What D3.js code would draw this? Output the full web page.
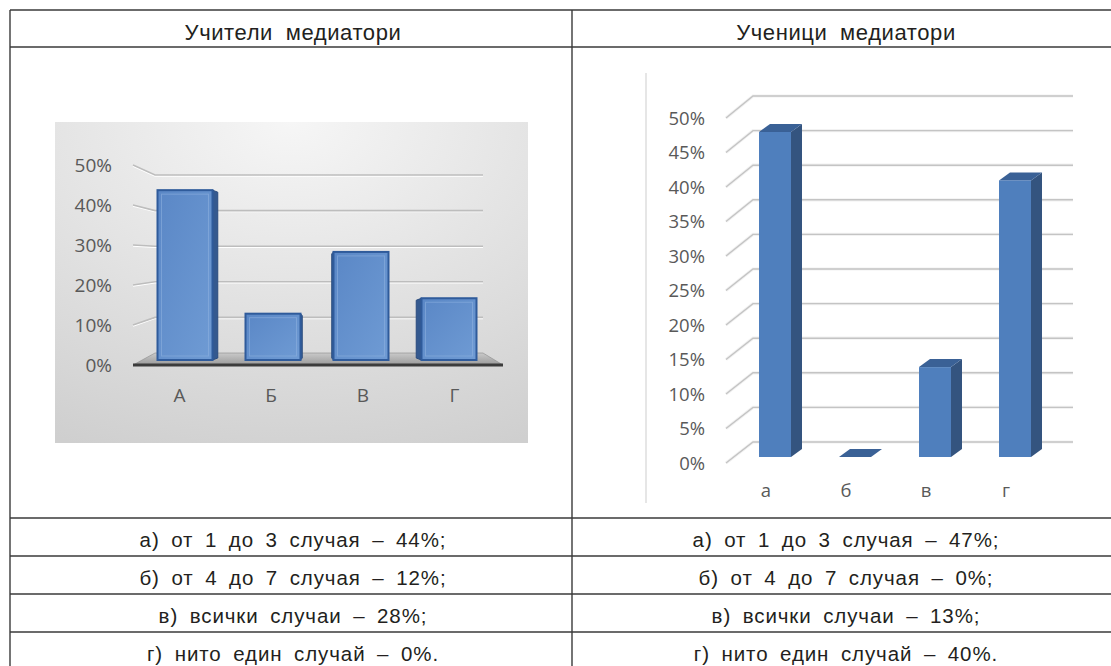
<!DOCTYPE html>
<html>
<head>
<meta charset="utf-8">
<script src="https://cdn.jsdelivr.net/npm/d3@7"></script>
<style>
  html, body { margin: 0; padding: 0; background: #fff; }
  svg { display: block; }
  .tbl-text { font-family: "Liberation Sans", Arial, sans-serif; fill: #231f20; }
  .ax-text { font-family: "Open Sans", "Noto Sans", sans-serif; fill: #595959; }
</style>
</head>
<body>
<svg id="chart" width="1111" height="666"></svg>
<script>
// ---- data ----
const headers = ["Учители медиатори", "Ученици медиатори"];

const teacherCats = ["А", "Б", "В", "Г"];
const teacherVals = [44, 12, 28, 16];
const teacherTicks = [0, 10, 20, 30, 40, 50];

const studentCats = ["а", "б", "в", "г"];
const studentVals = [47, 0, 13, 40];
const studentTicks = [0, 5, 10, 15, 20, 25, 30, 35, 40, 45, 50];

const teacherRows = [
  "а) от 1 до 3 случая – 44%;",
  "б) от 4 до 7 случая – 12%;",
  "в) всички случаи – 28%;",
  "г) нито един случай – 0%."
];
const studentRows = [
  "а) от 1 до 3 случая – 47%;",
  "б) от 4 до 7 случая – 0%;",
  "в) всички случаи – 13%;",
  "г) нито един случай – 40%."
];

const svg = d3.select("#chart");
const defs = svg.append("defs");
const pct = d => d + "%";

// ---- table frame ----
const tbl = { left: 10, mid: 572, right: 1120, top: 10, head: 47, body: 518, rowH: 38 };
const rowYs = d3.range(teacherRows.length + 1).map(i => tbl.body + i * tbl.rowH);
const tg = svg.append("g");
const hLines = [tbl.top, tbl.head, ...rowYs];
tg.selectAll("line.h").data(hLines).join("line")
  .attr("x1", tbl.left).attr("x2", tbl.right)
  .attr("y1", d => d).attr("y2", d => d)
  .attr("stroke", "#3a3a3a").attr("stroke-width", 1.4);
[tbl.left, tbl.mid].forEach(x => {
  tg.append("line").attr("x1", x).attr("x2", x)
    .attr("y1", tbl.top).attr("y2", 680)
    .attr("stroke", "#3a3a3a").attr("stroke-width", 1.4);
});
const colCenters = [(tbl.left + tbl.mid) / 2 + 2, (tbl.mid + tbl.right) / 2];
tg.selectAll("text.head").data(headers).join("text")
  .attr("class", "tbl-text")
  .attr("x", (d, i) => colCenters[i]).attr("y", 39.5)
  .attr("text-anchor", "middle").attr("font-size", 22)
  .attr("letter-spacing", 0.6).attr("word-spacing", 6)
  .text(d => d);
[teacherRows, studentRows].forEach((rows, c) => {
  tg.selectAll("text.r" + c).data(rows).join("text")
    .attr("class", "tbl-text")
    .attr("x", colCenters[c])
    .attr("y", (d, i) => rowYs[i] + 28.5)
    .attr("text-anchor", "middle").attr("font-size", 20.5)
    .attr("letter-spacing", 0.9).attr("word-spacing", 5)
    .text(d => d);
});

// ---- left chart: teachers ----
(function () {
  const g = svg.append("g");
  const bg = defs.append("radialGradient").attr("id", "bgGrad")
    .attr("cx", "50%").attr("cy", "0%").attr("r", "110%");
  bg.append("stop").attr("offset", "0%").attr("stop-color", "#f6f6f6");
  bg.append("stop").attr("offset", "100%").attr("stop-color", "#cfcfcf");
  g.append("rect").attr("x", 55).attr("y", 122).attr("width", 473).attr("height", 321)
    .attr("fill", "url(#bgGrad)");

  const yFront = d3.scaleLinear().domain([0, 50]).range([365, 165]);
  const yBack = d3.scaleLinear().domain([0, 50]).range([353, 175]);
  const yBar = d3.scaleLinear().domain([0, 50]).range([360, 167]);
  const x = d3.scaleBand().domain(teacherCats).range([141, 493])
    .paddingInner(0.375).paddingOuter(0.1875);
  const frontL = 133, backL = 155, backR = 483, frontR = 503;
  const vp = 317;

  // gridlines: back wall line plus slanted stub on the side wall
  const gl = g.append("g");
  teacherTicks.filter(t => t > 0).forEach(t => {
    [["#ffffff", 1.5, 1], ["#bdbdbd", 1.6, 0]].forEach(([c, w, o]) => {
      gl.append("polyline")
        .attr("points", `${frontL},${yFront(t) + o} ${backL},${yBack(t) + o} ${backR},${yBack(t) + o}`)
        .attr("fill", "none").attr("stroke", c).attr("stroke-width", w);
    });
  });

  // floor
  const fg = defs.append("linearGradient").attr("id", "floorGrad")
    .attr("x1", 0).attr("y1", 0).attr("x2", 0).attr("y2", 1);
  fg.append("stop").attr("offset", "0%").attr("stop-color", "#c9c9c9");
  fg.append("stop").attr("offset", "100%").attr("stop-color", "#9a9a9a");
  g.append("polygon")
    .attr("points", `${frontL},${yFront(0)} ${backL},${yBack(0)} ${backR},${yBack(0)} ${frontR},${yFront(0)}`)
    .attr("fill", "url(#floorGrad)").attr("stroke", "#8c8c8c").attr("stroke-width", 0.6);
  g.append("line").attr("x1", frontL).attr("x2", frontR)
    .attr("y1", yFront(0)).attr("y2", yFront(0))
    .attr("stroke", "#3c3c3c").attr("stroke-width", 3.2);

  // bars
  const barGrad = defs.append("linearGradient").attr("id", "barGrad")
    .attr("x1", 0).attr("y1", 0).attr("x2", 1).attr("y2", 1);
  barGrad.append("stop").attr("offset", "0%").attr("stop-color", "#5a87c6");
  barGrad.append("stop").attr("offset", "100%").attr("stop-color", "#6f9bd4");
  const bars = g.append("g");
  teacherCats.forEach((c, i) => {
    const v = teacherVals[i];
    const x0 = x(c), w = x.bandwidth();
    const cx = x0 + w / 2;
    const side = (vp - cx) * 0.04;
    const top = yBar(v), bot = yBar(0);
    // visible side face
    if (Math.abs(side) > 1) {
      const sx = side > 0 ? x0 + w : x0;
      bars.append("polygon")
        .attr("points", `${sx},${top} ${sx + side},${top + 2} ${sx + side},${bot - 2} ${sx},${bot}`)
        .attr("fill", "#34598f").attr("stroke", "#2b4c7e").attr("stroke-width", 1);
    }
    bars.append("rect").attr("x", x0).attr("y", top).attr("width", w).attr("height", bot - top)
      .attr("fill", "url(#barGrad)").attr("stroke", "#2f5b9b").attr("stroke-width", 2);
    bars.append("rect").attr("x", x0 + 4).attr("y", top + 4)
      .attr("width", w - 8).attr("height", Math.max(0, bot - top - 8))
      .attr("fill", "none").attr("stroke", "#8fb2e0").attr("stroke-opacity", 0.55).attr("stroke-width", 1);
  });

  // axis labels (category labels sit on the wider front edge of the floor)
  const frontX = c => vp + (x(c) + x.bandwidth() / 2 - vp) * 1.042;
  g.selectAll("text.yt").data(teacherTicks).join("text")
    .attr("class", "ax-text").attr("font-size", 19)
    .attr("x", 112).attr("y", d => yFront(d)).attr("dy", "0.36em")
    .attr("text-anchor", "end").text(pct);
  g.selectAll("text.xt").data(teacherCats).join("text")
    .attr("class", "ax-text").attr("font-size", 19)
    .attr("x", d => frontX(d)).attr("y", 395).attr("dy", "0.36em")
    .attr("text-anchor", "middle").text(d => d);
})();

// ---- right chart: students ----
(function () {
  const g = svg.append("g");
  g.append("line").attr("x1", 646).attr("x2", 646).attr("y1", 73).attr("y2", 503)
    .attr("stroke", "#d9d9d9").attr("stroke-width", 1.3);

  const yFront = d3.scaleLinear().domain([0, 50]).range([463, 118]);
  const yBack = d3.scaleLinear().domain([0, 50]).range([442, 96]);
  const yBar = d3.scaleLinear().domain([0, 50]).range([457, 111.25]);
  const x = d3.scaleBand().domain(studentCats).range([719, 1071])
    .paddingInner(0.6).paddingOuter(0.5);
  const frontL = 726, backL = 753, backR = 1073;
  const dx = 11, dy = -8;

  const gl = g.append("g");
  studentTicks.forEach(t => {
    [["#f2f2f2", 3.2, 0], ["#c4c4c4", 1.4, 0]].forEach(([c, w, o]) => {
      gl.append("polyline")
        .attr("points", `${frontL},${yFront(t) + o} ${backL},${yBack(t) + o} ${backR},${yBack(t) + o}`)
        .attr("fill", "none").attr("stroke", c).attr("stroke-width", w);
    });
  });

  const bars = g.append("g");
  studentCats.forEach((c, i) => {
    const v = studentVals[i];
    const x0 = x(c), w = x.bandwidth();
    const top = yBar(v), bot = yBar(0);
    // side
    bars.append("polygon")
      .attr("points", `${x0 + w},${top} ${x0 + w + dx},${top + dy} ${x0 + w + dx},${bot + dy} ${x0 + w},${bot}`)
      .attr("fill", "#34547f");
    // top
    bars.append("polygon")
      .attr("points", `${x0},${top} ${x0 + dx},${top + dy} ${x0 + w + dx},${top + dy} ${x0 + w},${top}`)
      .attr("fill", "#3a6196");
    // front
    if (bot - top > 0) {
      bars.append("rect").attr("x", x0).attr("y", top).attr("width", w).attr("height", bot - top)
        .attr("fill", "#4f7fbd");
    }
  });

  g.selectAll("text.yt").data(studentTicks).join("text")
    .attr("class", "ax-text").attr("font-size", 18.5)
    .attr("x", 705).attr("y", d => yFront(d)).attr("dy", "0.36em")
    .attr("text-anchor", "end").text(pct);
  g.selectAll("text.xt").data(studentCats).join("text")
    .attr("class", "ax-text").attr("font-size", 18.5)
    .attr("x", d => x(d) + x.bandwidth() / 2 - 9).attr("y", 490).attr("dy", "0.36em")
    .attr("text-anchor", "middle").text(d => d);
})();
</script>
</body>
</html>
